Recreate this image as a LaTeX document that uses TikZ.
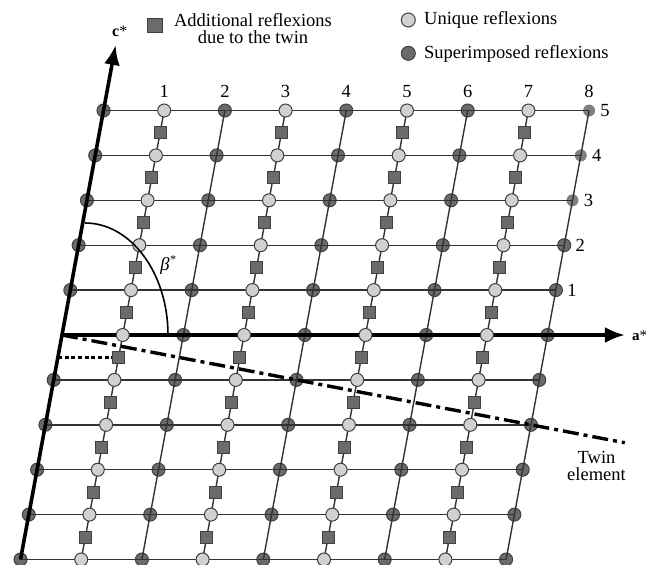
\documentclass[tikz,border=0pt]{standalone}
\usepackage{fontspec}
\setmainfont{Liberation Serif}
\usetikzlibrary{arrows.meta}
\begin{document}
\begin{tikzpicture}[x=1pt,y=-1pt,
  gridline/.style={line width=1.4pt, draw=black!80},
  axisline/.style={line width=3.6pt, draw=black, -{Latex[length=20pt,width=16pt]}},
  uniqnode/.style={circle, draw=black!75, fill=black!18, line width=1pt, minimum size=13pt, inner sep=0pt},
  supnode/.style={circle, draw=black!75, fill=black!58, line width=1pt, minimum size=13pt, inner sep=0pt},
  fadednode/.style={circle, fill=black!50, minimum size=12pt, inner sep=0pt},
  addnode/.style={rectangle, draw=black!75, fill=black!58, line width=1pt, minimum size=12pt, inner sep=0pt},
  lab/.style={font=\fontsize{18.5}{17}\selectfont, inner sep=0pt},
  twinline/.style={line width=3.4pt, dash pattern=on 16pt off 5pt on 4pt off 5pt},
  dotline/.style={line width=3.4pt, dash pattern=on 4pt off 2.7pt},
]
\useasboundingbox (0,0) rectangle (646,565);

\begin{scope}[shift={(62,335)}, x={(60.7pt,0pt)}, y={(8.3pt,44.9pt)}]
  % lattice coordinates
  \foreach \i in {0,...,8}{
    \foreach \j in {-5,...,5}{
      \coordinate (p\i_\j) at (\i,\j);
    }
  }
  \coordinate (atip) at (9.275,0);
  \coordinate (ctip) at (0,6.46);
  \coordinate (twend) at (9.6,-2.4);
  \coordinate (dotstart) at (0,-0.5);

  % superimposed reflexions (even columns)
  \foreach \i in {0,2,4,6}{
    \foreach \j in {-5,...,5}{
      \ifnum\i=0 \ifnum\j=0 \else
        \node[supnode] (d\i_\j) at (p\i_\j) {};
      \fi\else
        \node[supnode] (d\i_\j) at (p\i_\j) {};
      \fi
    }
  }
  \foreach \j in {-5,...,2}{
    \node[supnode] (d8_\j) at (p8_\j) {};
  }
  \foreach \j in {3,4,5}{
    \node[fadednode] (f8_\j) at (p8_\j) {};
  }

  % grid lines
  \foreach \j in {-5,...,5}{
    \draw[gridline] (p0_\j) -- (p8_\j);
  }
  \foreach \i in {1,...,8}{
    \draw[gridline] (p\i_-5) -- (p\i_5);
  }

  % axes
  \draw[axisline] (p0_-5) -- (ctip);
  \draw[axisline] (p0_0) -- (atip);

  % unique reflexions and additional reflexions (odd columns)
  \foreach \i in {1,3,5,7}{
    \foreach \j in {-5,...,4}{
      \node[addnode] (s\i_\j) at (\i,\j+0.5) {};
    }
    \foreach \j in {-5,...,5}{
      \node[uniqnode] (u\i_\j) at (p\i_\j) {};
    }
  }

  % twin element and dotted line
  \draw[dotline] (dotstart) -- (s1_-1.west);
  \draw[twinline] (p0_0) -- (twend);

  % column labels
  \foreach \i in {1,...,8}{
    \node[lab] (cl\i) at ([yshift=19pt]p\i_5) {\i};
  }
  % row labels
  \foreach \j in {1,...,5}{
    \node[lab] (rl\j) at ([xshift=16pt]p8_\j) {\j};
  }
\end{scope}

% beta* arc
\coordinate (arcstart) at (168,335);
\draw[line width=1.6pt] (arcstart) arc[start angle=0, end angle=90, x radius=83pt, y radius=112pt];
\node[lab, anchor=base] (beta) at (168,270) {\itshape β\raisebox{0.35em}{\fontsize{12}{12}\selectfont *}};

% axis labels
\node[lab, anchor=base west, font=\fontsize{15}{15}\selectfont] (alab) at (632,340) {\textbf{a}*};
\node[lab, anchor=base west, font=\fontsize{16}{16}\selectfont] (clab) at (112,36) {\textbf{c}*};

% twin element label
\node[lab, anchor=base] (tw1) at (596.5,463) {Twin};
\node[lab, anchor=base] (tw2) at (596.5,480) {element};

% legend
\node[addnode, minimum size=14.5pt] (legsq) at (155,25.5) {};
\node[lab, anchor=base] (leg1a) at (253,26) {Additional reflexions};
\node[lab, anchor=base] (leg1b) at (253,43) {due to the twin};
\node[uniqnode, minimum size=14pt] (legu) at (408.3,20) {};
\node[lab, anchor=base west] (leg2) at (424,24.3) {Unique reflexions};
\node[supnode, minimum size=14pt] (legs) at (408.3,53.3) {};
\node[lab, anchor=base west] (leg3) at (424,58.3) {Superimposed reflexions};
\end{tikzpicture}
\end{document}
